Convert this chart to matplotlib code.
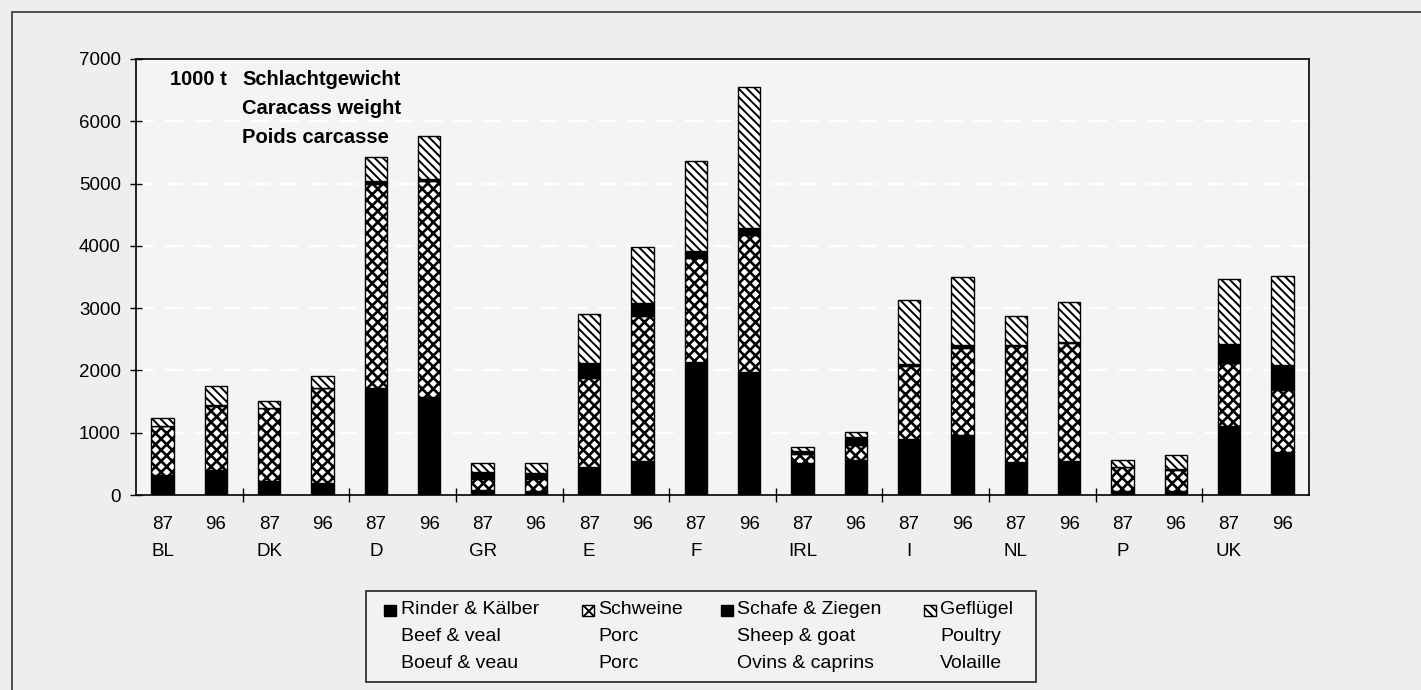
import matplotlib
matplotlib.use("Agg")
import matplotlib.pyplot as plt
import numpy as np
from matplotlib.patches import Rectangle

plt.rcParams['font.family'] = ['Liberation Sans', 'DejaVu Sans']
plt.rcParams['hatch.linewidth'] = 1.5

countries = ["BL", "DK", "D", "GR", "E", "F", "IRL", "I", "NL", "P", "UK"]
years = ["87", "96"]

# 1000 t carcass weight, order: BL87, BL96, DK87, DK96, ...
beef = [320, 400, 230, 195, 1715, 1580, 85, 70, 445, 540, 2130, 1970,
        515, 565, 900, 970, 525, 540, 65, 60, 1100, 685]
pork = [780, 1035, 1166, 1520, 3280, 3455, 172, 180, 1440, 2327, 1675, 2210,
        150, 240, 1164, 1390, 1870, 1900, 380, 345, 1020, 1005]
sheep = [5, 5, 5, 3, 50, 40, 106, 110, 236, 215, 120, 110,
         40, 120, 40, 50, 15, 15, 10, 15, 310, 400]
poultry = [131, 304, 112, 197, 374, 692, 150, 153, 789, 892, 1430, 2253,
           70, 90, 1031, 1083, 457, 643, 101, 227, 1037, 1419]

W, H = 1421, 690
fig = plt.figure(figsize=(W / 100, H / 100), dpi=100, facecolor='#eeeeee')
ax = fig.add_axes([136 / W, 1 - 495 / H, (1309 - 136) / W, (495 - 59) / H])
ax.set_facecolor('#f4f4f4')

x = np.arange(len(beef))
b = np.array(beef); p = np.array(pork); s = np.array(sheep); q = np.array(poultry)
bw = 0.42
ax.bar(x, b, bw, color='black', edgecolor='black', lw=1, zorder=3)
plt.rcParams['hatch.linewidth'] = 1.9
ax.bar(x, p, bw, bottom=b, color='white', edgecolor='black', hatch='xxx', lw=1, zorder=3)
plt.rcParams['hatch.linewidth'] = 1.4
ax.bar(x, s, bw, bottom=b + p, color='black', edgecolor='black', lw=1, zorder=3)
ax.bar(x, q, bw, bottom=b + p + s, color='white', edgecolor='black', hatch='\\\\\\\\', lw=1, zorder=3)

ax.set_xlim(-0.5, len(beef) - 0.5)
ax.set_ylim(0, 7000)
ax.set_yticks(np.arange(0, 7001, 1000))
for yv in range(1000, 7000, 1000):
    ax.axhline(yv, color='white', lw=1.6, ls=(0, (8, 5)), zorder=1)

labels = []
for c in countries:
    labels += ["87\n" + c, "96"]
ax.set_xticks(x)
ax.set_xticklabels(labels, fontsize=13.5, linespacing=1.8)
ax.tick_params(axis='x', which='major', length=0, pad=15)
ax.set_xticks(np.arange(1.5, len(beef) - 1, 2), minor=True)
ax.tick_params(axis='x', which='minor', length=10, direction='inout', width=1)
ax.tick_params(axis='y', length=8, direction='inout', width=1, labelsize=13.5, pad=7)
for sp in ax.spines.values():
    sp.set_linewidth(1.2)

ax.text(34 / 1173, 1 - 21 / 436, "1000 t", transform=ax.transAxes, fontsize=14.5,
        fontweight='bold', va='center', ha='left')
for i, t in enumerate(["Schlachtgewicht", "Caracass weight", "Poids carcasse"]):
    ax.text(106 / 1173, 1 - (21 + i * 28.8) / 436, t, transform=ax.transAxes, fontsize=14.5,
            fontweight='bold', va='center', ha='left')

# outer frame
fig.patches.append(Rectangle((12 / W, -0.05), 1.2, 1 - 12 / H + 0.05, transform=fig.transFigure,
                             fill=False, edgecolor='#333333', lw=1.2))

# legend box
fig.patches.append(Rectangle((366 / W, 1 - 682 / H), (1036 - 366) / W, (682 - 591) / H,
                             transform=fig.transFigure, facecolor='#f2f2f2',
                             edgecolor='#222222', lw=1.2))
cols = [
    (384, 401, 'black', None, ["Rinder & Kälber", "Beef & veal", "Boeuf & veau"]),
    (582, 598, 'white', 'xxx', ["Schweine", "Porc", "Porc"]),
    (721, 737, 'black', None, ["Schafe & Ziegen", "Sheep & goat", "Ovins & caprins"]),
    (924, 940, 'white', '\\\\\\\\', ["Geflügel", "Poultry", "Volaille"]),
]
rows = [610, 636.5, 663]
for mx, tx, fc, ht, texts in cols:
    fig.patches.append(Rectangle((mx / W, 1 - 616 / H), 12 / W, 11 / H, transform=fig.transFigure,
                                 facecolor=fc, edgecolor='black', hatch=ht, lw=1))
    for ry, t in zip(rows, texts):
        fig.text(tx / W, 1 - ry / H, t, fontsize=14, va='center', ha='left')

fig.savefig("out.png", dpi=100, facecolor=fig.get_facecolor())
